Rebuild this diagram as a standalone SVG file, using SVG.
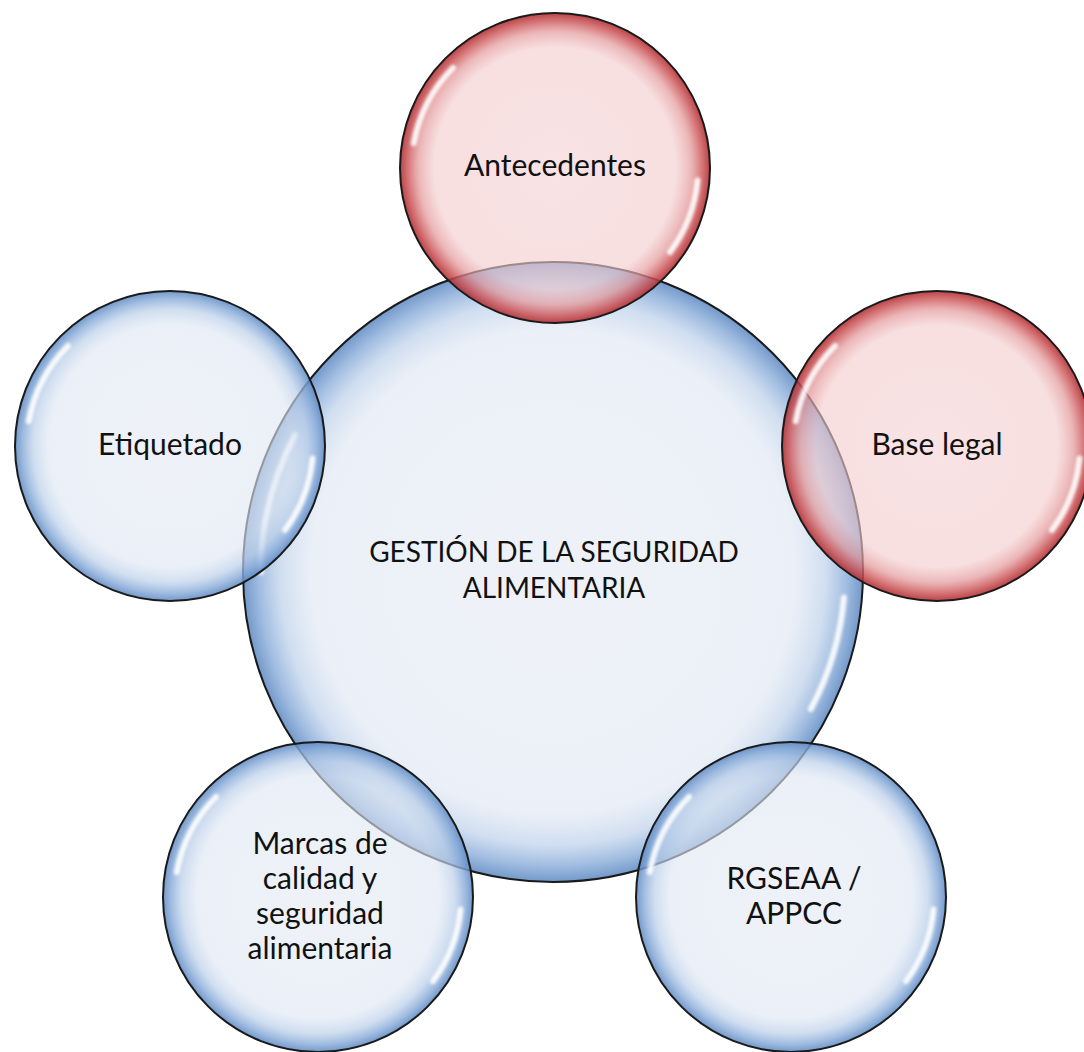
<svg xmlns="http://www.w3.org/2000/svg" width="1084" height="1052" viewBox="0 0 1084 1052">
  <defs>
    <radialGradient id="gBlue" cx="50%" cy="50%" r="50%">
      <stop offset="0%" stop-color="#e3e9f3" stop-opacity="0.6"/>
      <stop offset="78%" stop-color="#dfe7f3" stop-opacity="0.62"/>
      <stop offset="88%" stop-color="#bcd0ea" stop-opacity="0.7"/>
      <stop offset="95%" stop-color="#86aad8" stop-opacity="0.8"/>
      <stop offset="100%" stop-color="#5f8ac2" stop-opacity="0.88"/>
    </radialGradient>
    <radialGradient id="gRed" cx="50%" cy="50%" r="50%">
      <stop offset="0%" stop-color="#f5d0d2" stop-opacity="0.6"/>
      <stop offset="78%" stop-color="#f3cbcd" stop-opacity="0.62"/>
      <stop offset="88%" stop-color="#e49a9c" stop-opacity="0.72"/>
      <stop offset="95%" stop-color="#cc5558" stop-opacity="0.82"/>
      <stop offset="100%" stop-color="#b02e32" stop-opacity="0.9"/>
    </radialGradient>
    <filter id="soft" x="-20%" y="-20%" width="140%" height="140%">
      <feGaussianBlur stdDeviation="1.6"/>
    </filter>
  </defs>
  <style>
    .ring { stroke: #1a1a1a; stroke-width: 2; }
    .blue { fill: url(#gBlue); }
    .red { fill: url(#gRed); }
    .hl { fill: none; stroke: #ffffff; stroke-width: 6; stroke-linecap: round; opacity: 0.9; filter: url(#soft); }
    .lbl { font-family: Lato, "Liberation Sans", sans-serif; font-size: 30px; fill: #111111; text-anchor: middle; }
    .lblc { font-size: 28px; }
  </style>

  <g id="node-central">
    <circle class="blue ring" cx="553" cy="572" r="310"/>
    <path class="hl" d="M 261 572 A 292 292 0 0 1 295.2 435" stroke-width="8"/>
    <path class="hl" d="M 843.9 597.4 A 292 292 0 0 1 810.8 709" stroke-width="8"/>
    <text class="lbl lblc" x="554" y="562">GESTIÓN DE LA SEGURIDAD</text>
    <text class="lbl lblc" x="554" y="598">ALIMENTARIA</text>
  </g>

  <g id="node-antecedentes">
    <circle class="red ring" cx="555" cy="168" r="155"/>
    <path class="hl" d="M 413.8 143.2 A 143 143 0 0 1 453 68"/>
    <path class="hl" d="M 697.5 180.5 A 143 143 0 0 1 670 252"/>
    <text class="lbl" x="555" y="176">Antecedentes</text>
  </g>

  <g id="node-base-legal">
    <circle class="red ring" cx="937" cy="446" r="155"/>
    <path class="hl" d="M 795.8 421.2 A 143 143 0 0 1 835 346"/>
    <path class="hl" d="M 1079.5 458.5 A 143 143 0 0 1 1052 530"/>
    <text class="lbl" x="937" y="455">Base legal</text>
  </g>

  <g id="node-etiquetado">
    <circle class="blue ring" cx="170" cy="446" r="155"/>
    <path class="hl" d="M 28.8 421.2 A 143 143 0 0 1 68 346"/>
    <path class="hl" d="M 312.5 458.5 A 143 143 0 0 1 285 530"/>
    <text class="lbl" x="170" y="455">Etiquetado</text>
  </g>

  <g id="node-rgseaa">
    <circle class="blue ring" cx="791" cy="897" r="155"/>
    <path class="hl" d="M 649.8 872.2 A 143 143 0 0 1 689 797"/>
    <path class="hl" d="M 933.5 909.5 A 143 143 0 0 1 906 981"/>
    <text class="lbl" x="794" y="889">RGSEAA /</text>
    <text class="lbl" x="794" y="924">APPCC</text>
  </g>

  <g id="node-marcas">
    <circle class="blue ring" cx="318" cy="897" r="155"/>
    <path class="hl" d="M 176.8 872.2 A 143 143 0 0 1 216 797"/>
    <path class="hl" d="M 460.5 909.5 A 143 143 0 0 1 433 981"/>
    <text class="lbl" x="320" y="854">Marcas de</text>
    <text class="lbl" x="320" y="889">calidad y</text>
    <text class="lbl" x="320" y="924">seguridad</text>
    <text class="lbl" x="320" y="959">alimentaria</text>
  </g>

  <g id="connectors"></g>
</svg>
